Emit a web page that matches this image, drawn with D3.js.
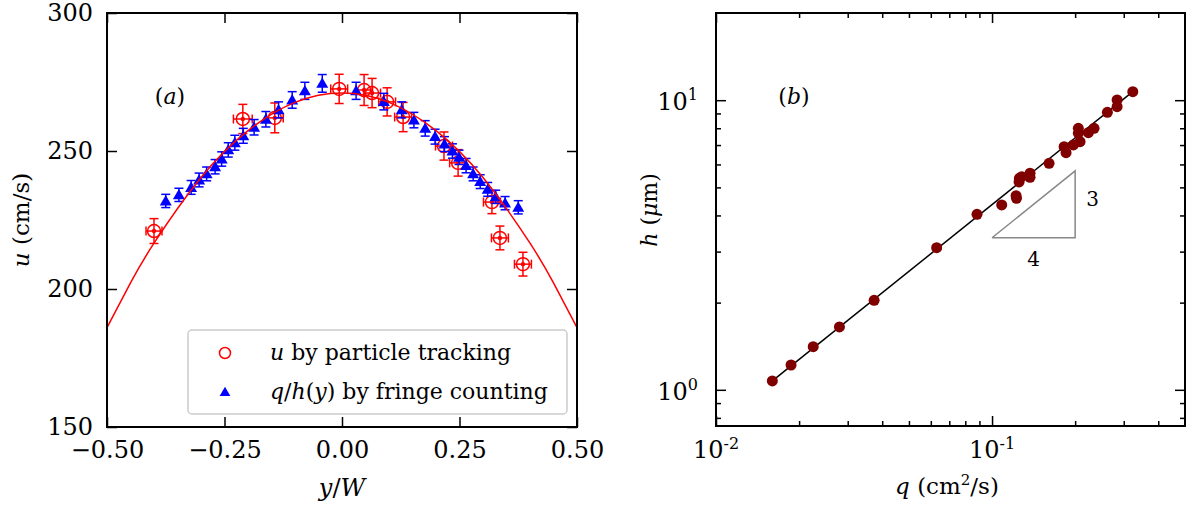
<!DOCTYPE html>
<html>
<head>
<meta charset="utf-8">
<script src="https://cdn.jsdelivr.net/npm/d3@7"></script>
<style>
  body { margin: 0; background: #fff; }
  svg { display: block; font-family: "DejaVu Serif", serif; }
</style>
</head>
<body>
<div id="chart"></div>
<script>
// (a) u by particle tracking
const ptY = [-0.400, -0.211, -0.143, -0.006, 0.047, 0.064, 0.096, 0.130, 0.217, 0.247, 0.319, 0.336, 0.385]
const ptU = [221.0, 261.6, 262.0, 272.5, 272.1, 271.0, 267.8, 262.3, 251.8, 245.7, 231.5, 218.5, 209.0]
const ptErrU = [4.5, 5.3, 5.4, 5.3, 5.6, 5.3, 5.1, 5.3, 5.1, 4.8, 4.2, 4.3, 4.3]
const ptErrY = [0.017, 0.020, 0.018, 0.018, 0.018, 0.018, 0.018, 0.018, 0.018, 0.018, 0.018, 0.018, 0.018]

// (a) q/h(y) by fringe counting
const fcY = [-0.375, -0.347, -0.321, -0.304, -0.288, -0.270, -0.256, -0.242, -0.228, -0.210, -0.187, -0.162,
    -0.135, -0.106, -0.079, -0.042, 0.030, 0.089, 0.127, 0.153, 0.177, 0.198, 0.218, 0.235, 0.249, 0.264,
    0.279, 0.294, 0.310, 0.327, 0.347, 0.375]
const fcU = [231.9, 234.1, 236.8, 239.5, 241.7, 244.3, 247.1, 250.4, 253.0, 255.5, 258.6, 261.5,
    264.9, 268.5, 271.8, 274.5, 271.8, 267.9, 264.9, 261.2, 258.2, 255.2, 252.5, 250.0, 247.7, 244.7,
    241.7, 238.9, 236.1, 233.4, 231.1, 229.6]
const fcErr = [2.4, 2.4, 2.5, 2.5, 2.5, 2.6, 2.6, 2.6, 2.7, 2.7, 2.8, 2.8, 2.9, 3.0, 3.1, 3.2,
    3.1, 3.0, 2.9, 2.8, 2.8, 2.7, 2.7, 2.6, 2.6, 2.6, 2.5, 2.5, 2.5, 2.4, 2.4, 2.4]

// (a) red fit curve
const fitY = [-0.5, -0.45, -0.4, -0.3, -0.2, -0.1, 0, 0.1, 0.2, 0.3, 0.4, 0.45, 0.5]
const fitU = [186.0, 202.2, 216.6, 240.4, 257.4, 267.6, 271.0, 267.6, 257.4, 240.4, 216.6, 202.2, 186.0]

// (b) h against q
const qq = [0.0160, 0.0187, 0.0225, 0.0280, 0.0374, 0.0630, 0.0882, 0.1084, 0.1222, 0.1226, 0.1256, 0.1281,
    0.1253, 0.1373, 0.1373, 0.1609, 0.1824, 0.1854, 0.1971, 0.2054, 0.2054, 0.2084, 0.2233, 0.2342,
    0.2617, 0.2838, 0.2838, 0.3235]
const hh = [1.073, 1.218, 1.409, 1.648, 2.037, 3.096, 4.037, 4.348, 4.681, 4.585, 5.375, 5.444,
    5.219, 5.594, 5.418, 6.055, 6.911, 6.589, 7.005, 7.995, 7.685, 7.190, 7.720, 7.995,
    9.080, 10.02, 9.500, 10.70]
const fitQ = [0.0160, 0.3235]
const fitH = [1.073, 10.70]
// slope triangle 3/4
const triQ = [0.1, 0.2, 0.2, 0.1]
const triH = [3.35, 3.35, 5.70, 3.35]

const yTicksA = [150, 200, 250, 300]
const xTicksA = [-0.5, -0.25, 0, 0.25, 0.5]
const xMajorB = [0.01, 0.1]
const xMinorB = [0.02, 0.03, 0.04, 0.05, 0.06, 0.07, 0.08, 0.09, 0.2, 0.3, 0.4]
const yMajorB = [1, 10]
const yMinorB = [0.8, 0.9, 2, 3, 4, 5, 6, 7, 8, 9]

const width = 1187, height = 512
const tickFont = 24

const svg = d3.select("#chart").append("svg")
    .attr("width", width)
    .attr("height", height)
    .attr("viewBox", [0, 0, width, height])

function styleAxis(g) {
    g.select(".domain").remove()
    g.selectAll(".tick line").attr("stroke", "#000").attr("stroke-width", 1.5)
    g.selectAll("text").attr("font-family", "DejaVu Serif").attr("font-size", tickFont).attr("fill", "#000")
}

// ---------- panel (a) ----------
const xa = d3.scaleLinear([-0.5, 0.5], [107, 577])
const ya = d3.scaleLinear([150, 300], [427, 13])
const fmt = d3.format(".2f")

svg.append("g").attr("transform", `translate(0,${ya.range()[0]})`)
    .call(d3.axisBottom(xa).tickValues(xTicksA).tickSize(-10).tickSizeOuter(0).tickPadding(14).tickFormat(fmt))
    .call(styleAxis)
svg.append("g").attr("transform", `translate(0,${ya.range()[1]})`)
    .call(d3.axisTop(xa).tickValues(xTicksA).tickSize(-10).tickSizeOuter(0).tickFormat(""))
    .call(styleAxis)
svg.append("g").attr("transform", `translate(${xa.range()[0]},0)`)
    .call(d3.axisLeft(ya).tickValues(yTicksA).tickSize(-10).tickSizeOuter(0).tickPadding(14))
    .call(styleAxis)
svg.append("g").attr("transform", `translate(${xa.range()[1]},0)`)
    .call(d3.axisRight(ya).tickValues(yTicksA).tickSize(-10).tickSizeOuter(0).tickFormat(""))
    .call(styleAxis)

const clipA = svg.append("clipPath").attr("id", "clipA").append("rect")
    .attr("x", xa.range()[0]).attr("y", ya.range()[1])
    .attr("width", xa.range()[1] - xa.range()[0]).attr("height", ya.range()[0] - ya.range()[1])

const plotA = svg.append("g").attr("clip-path", "url(#clipA)")

// red points with x and y error bars
const red = "#ff0000", blue = "#0000ff"
const ptIdx = d3.range(ptY.length)
const ptG = plotA.append("g").attr("stroke", red).attr("stroke-width", 1.5).attr("fill", "none")
ptIdx.forEach(i => {
    const cx = xa(ptY[i]), cy = ya(ptU[i])
    const y0 = ya(ptU[i] - ptErrU[i]), y1 = ya(ptU[i] + ptErrU[i])
    const x0 = xa(ptY[i] - ptErrY[i]), x1 = xa(ptY[i] + ptErrY[i])
    ptG.append("line").attr("x1", cx).attr("x2", cx).attr("y1", y0).attr("y2", y1)
    ptG.append("line").attr("x1", cx - 4.5).attr("x2", cx + 4.5).attr("y1", y0).attr("y2", y0)
    ptG.append("line").attr("x1", cx - 4.5).attr("x2", cx + 4.5).attr("y1", y1).attr("y2", y1)
    ptG.append("line").attr("x1", x0).attr("x2", x1).attr("y1", cy).attr("y2", cy)
    ptG.append("line").attr("x1", x0).attr("x2", x0).attr("y1", cy - 4.5).attr("y2", cy + 4.5)
    ptG.append("line").attr("x1", x1).attr("x2", x1).attr("y1", cy - 4.5).attr("y2", cy + 4.5)
    ptG.append("circle").attr("cx", cx).attr("cy", cy).attr("r", 6.5)
    ptG.append("circle").attr("cx", cx).attr("cy", cy).attr("r", 2.2).attr("fill", red).attr("stroke", "none")
})

// blue triangles with y error bars
const tri = d3.symbol(d3.symbolTriangle, 62)
const fcG = plotA.append("g")
d3.range(fcY.length).forEach(i => {
    const cx = xa(fcY[i]), cy = ya(fcU[i])
    const y0 = ya(fcU[i] - fcErr[i]), y1 = ya(fcU[i] + fcErr[i])
    const eb = fcG.append("g").attr("stroke", blue).attr("stroke-width", 1.5)
    eb.append("line").attr("x1", cx).attr("x2", cx).attr("y1", y0).attr("y2", y1)
    eb.append("line").attr("x1", cx - 4.5).attr("x2", cx + 4.5).attr("y1", y0).attr("y2", y0)
    eb.append("line").attr("x1", cx - 4.5).attr("x2", cx + 4.5).attr("y1", y1).attr("y2", y1)
    fcG.append("path").attr("d", tri).attr("fill", blue)
        .attr("transform", `translate(${cx},${cy + 1})`)
})

// red fit curve
plotA.append("path")
    .datum(d3.range(fitY.length))
    .attr("fill", "none")
    .attr("stroke", red)
    .attr("stroke-width", 1.5)
    .attr("d", d3.line().x(i => xa(fitY[i])).y(i => ya(fitU[i])).curve(d3.curveNatural))

svg.append("rect")
    .attr("x", xa.range()[0]).attr("y", ya.range()[1])
    .attr("width", xa.range()[1] - xa.range()[0]).attr("height", ya.range()[0] - ya.range()[1])
    .attr("fill", "none").attr("stroke", "#000").attr("stroke-width", 2)

// legend
const leg = svg.append("g")
leg.append("rect").attr("x", 188).attr("y", 330).attr("width", 379).attr("height", 84).attr("rx", 4)
    .attr("fill", "#fff").attr("fill-opacity", 0.8).attr("stroke", "#cccccc").attr("stroke-width", 1.5)
leg.append("circle").attr("cx", 225).attr("cy", 353).attr("r", 5.5)
    .attr("fill", "none").attr("stroke", red).attr("stroke-width", 1.5)
leg.append("path").attr("d", d3.symbol(d3.symbolTriangle, 50)).attr("fill", blue)
    .attr("transform", "translate(225,393)")
const l1 = leg.append("text").attr("x", 270).attr("y", 360).attr("font-size", 22)
l1.append("tspan").attr("font-style", "italic").text("u")
l1.append("tspan").text(" by particle tracking")
const l2 = leg.append("text").attr("x", 270).attr("y", 399).attr("font-size", 22)
l2.append("tspan").attr("font-style", "italic").text("q")
l2.append("tspan").text("/")
l2.append("tspan").attr("font-style", "italic").text("h")
l2.append("tspan").text("(")
l2.append("tspan").attr("font-style", "italic").text("y")
l2.append("tspan").text(") by fringe counting")

// titles panel (a)
const pa = svg.append("text").attr("x", 170).attr("y", 104).attr("text-anchor", "middle").attr("font-size", 22)
pa.append("tspan").text("(")
pa.append("tspan").attr("font-style", "italic").text("a")
pa.append("tspan").text(")")

const xl = svg.append("text").attr("x", 342).attr("y", 496).attr("text-anchor", "middle").attr("font-size", 24)
xl.append("tspan").attr("font-style", "italic").text("y")
xl.append("tspan").text("/")
xl.append("tspan").attr("font-style", "italic").text("W")

const yl = svg.append("text").attr("transform", "translate(29,220) rotate(-90)")
    .attr("text-anchor", "middle").attr("font-size", 23)
yl.append("tspan").attr("font-style", "italic").text("u")
yl.append("tspan").text(" (cm/s)")

// ---------- panel (b) ----------
const xb = d3.scaleLog([0.01, 0.5], [716, 1185])
const yb = d3.scaleLog([0.75, 20], [426, 13])

function logTicks(axisFn, scale, values, size, tr) {
    svg.append("g").attr("transform", tr)
        .call(axisFn(scale).tickValues(values).tickSize(size).tickSizeOuter(0).tickFormat(""))
        .call(styleAxis)
}
const bx0 = xb.range()[0], bx1 = xb.range()[1], by0 = yb.range()[0], by1 = yb.range()[1]
logTicks(d3.axisBottom, xb, xMajorB, -10, `translate(0,${by0})`)
logTicks(d3.axisBottom, xb, xMinorB, -5, `translate(0,${by0})`)
logTicks(d3.axisTop, xb, xMajorB, -10, `translate(0,${by1})`)
logTicks(d3.axisTop, xb, xMinorB, -5, `translate(0,${by1})`)
logTicks(d3.axisLeft, yb, yMajorB, -10, `translate(${bx0},0)`)
logTicks(d3.axisLeft, yb, yMinorB, -5, `translate(${bx0},0)`)
logTicks(d3.axisRight, yb, yMajorB, -10, `translate(${bx1},0)`)
logTicks(d3.axisRight, yb, yMinorB, -5, `translate(${bx1},0)`)

// power labels
xMajorB.forEach(v => {
    const t = svg.append("text").attr("x", xb(v)).attr("y", by0 + 32)
        .attr("text-anchor", "middle").attr("font-size", tickFont)
    t.append("tspan").text("10")
    t.append("tspan").attr("dy", -9).attr("font-size", 16).text("-" + Math.round(-Math.log10(v)))
})
yMajorB.forEach(v => {
    const t = svg.append("text").attr("x", bx0 - 18).attr("y", yb(v) + 10)
        .attr("text-anchor", "end").attr("font-size", tickFont)
    t.append("tspan").text("10")
    t.append("tspan").attr("dy", -10).attr("font-size", 16).text(Math.round(Math.log10(v)))
})

// slope triangle
svg.append("path")
    .datum(d3.range(triQ.length))
    .attr("fill", "none").attr("stroke", "#888").attr("stroke-width", 1.5)
    .attr("d", d3.line().x(i => xb(triQ[i])).y(i => yb(triH[i])))
svg.append("text").attr("x", xb(triQ[1]) + 11).attr("y", (yb(triH[1]) + yb(triH[2])) / 2 + 2)
    .attr("font-size", 20).text("3")
svg.append("text").attr("x", (xb(triQ[0]) + xb(triQ[1])) / 2).attr("y", yb(triH[0]) + 28)
    .attr("text-anchor", "middle").attr("font-size", 20).text("4")

// fit line and points
svg.append("path")
    .datum(d3.range(fitQ.length))
    .attr("fill", "none").attr("stroke", "#000").attr("stroke-width", 1.5)
    .attr("d", d3.line().x(i => xb(fitQ[i])).y(i => yb(fitH[i])))
svg.append("g").attr("fill", "#800000")
    .selectAll("circle")
    .data(d3.range(qq.length))
    .join("circle")
    .attr("cx", i => xb(qq[i]))
    .attr("cy", i => yb(hh[i]))
    .attr("r", 5.5)

svg.append("rect")
    .attr("x", bx0).attr("y", by1).attr("width", bx1 - bx0).attr("height", by0 - by1)
    .attr("fill", "none").attr("stroke", "#000").attr("stroke-width", 2)

const pb = svg.append("text").attr("x", 794).attr("y", 104).attr("text-anchor", "middle").attr("font-size", 22)
pb.append("tspan").text("(")
pb.append("tspan").attr("font-style", "italic").text("b")
pb.append("tspan").text(")")

const xlb = svg.append("text").attr("x", 947).attr("y", 494).attr("text-anchor", "middle").attr("font-size", 23)
xlb.append("tspan").attr("font-style", "italic").text("q")
xlb.append("tspan").text(" (cm")
xlb.append("tspan").attr("dy", -9).attr("font-size", 15).text("2")
xlb.append("tspan").attr("dy", 9).text("/s)")

const ylb = svg.append("text").attr("transform", "translate(657,210) rotate(-90)")
    .attr("text-anchor", "middle").attr("font-size", 22)
ylb.append("tspan").attr("font-style", "italic").text("h")
ylb.append("tspan").text(" (")
ylb.append("tspan").attr("font-style", "italic").text("μ")
ylb.append("tspan").text("m)")
</script>
</body>
</html>
